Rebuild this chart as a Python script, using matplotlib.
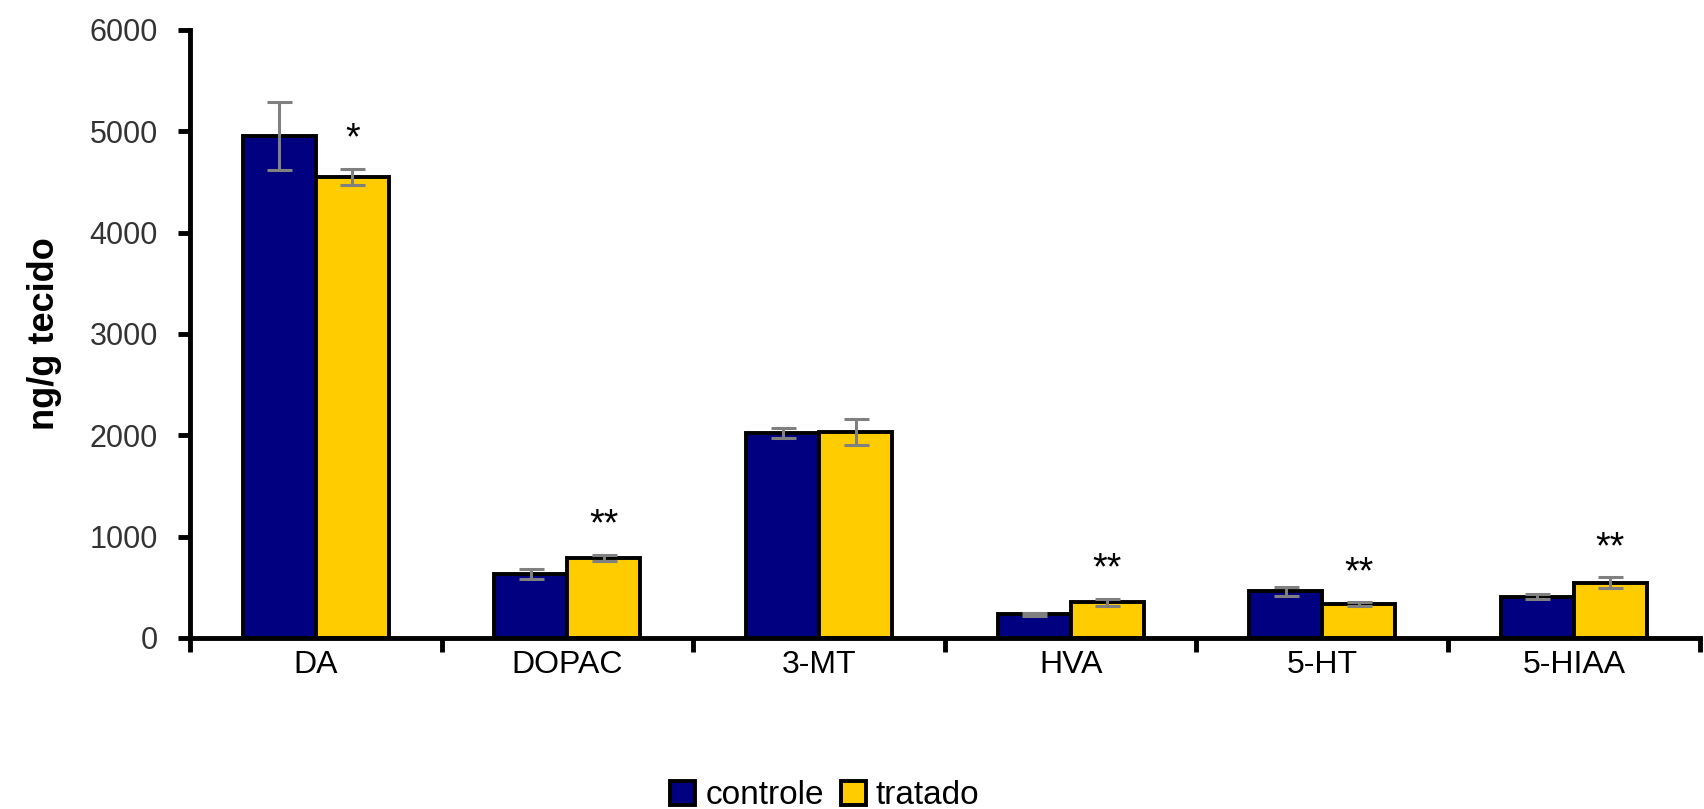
import matplotlib
matplotlib.use("Agg")
import matplotlib.pyplot as plt
import numpy as np

categories = ["DA", "DOPAC", "3-MT", "HVA", "5-HT", "5-HIAA"]
controle = [4950, 630, 2020, 236, 461, 408]
controle_err = [335, 50, 50, 15, 45, 25]
tratado = [4550, 790, 2030, 354, 333, 547]
tratado_err = [80, 30, 130, 35, 20, 50]
signif = ["*", "**", "", "**", "**", "**"]
yticks = [0, 1000, 2000, 3000, 4000, 5000, 6000]

plt.rcParams["font.family"] = ["Liberation Sans", "DejaVu Sans"]

fig = plt.figure(figsize=(17.04, 8.09), dpi=100)
ax = fig.add_axes([0.1115, 0.2114, 0.886, 0.7516])

x = np.arange(len(categories))
w = 0.29
err_kw = dict(ecolor="#808080", elinewidth=2.2, capsize=9, capthick=2.2)
ax.bar(x - w / 2, controle, w, yerr=controle_err, color="#000080",
       edgecolor="black", linewidth=2.8, label="controle", error_kw=err_kw)
ax.bar(x + w / 2, tratado, w, yerr=tratado_err, color="#FFCC00",
       edgecolor="black", linewidth=2.8, label="tratado", error_kw=err_kw)

# significance marks above the tratado bars
for i, s in enumerate(signif):
    if s:
        ax.text(x[i] + w / 2, tratado[i] + tratado_err[i] + 290, s,
                ha="center", va="center", fontsize=27, color="black")

ax.set_xlim(-0.5, len(categories) - 0.5)
ax.set_ylim(0, 6000)
ax.set_yticks(yticks)
ax.set_yticklabels([str(t) for t in yticks], fontsize=22, color="#333333")
ax.set_xticks(x)
ax.set_xticklabels(categories, fontsize=23)
ax.set_xticks(np.arange(len(categories) + 1) - 0.5, minor=True)
ax.tick_params(axis="x", which="major", length=0, pad=9)
ax.tick_params(axis="x", which="minor", length=10, width=3.5, direction="out")
ax.tick_params(axis="y", length=9, width=3.5, direction="out", pad=14)

for side in ["top", "right"]:
    ax.spines[side].set_visible(False)
for side in ["left", "bottom"]:
    ax.spines[side].set_linewidth(3.5)

ax.set_ylabel("ng/g tecido", fontsize=26, fontweight="bold", labelpad=20)

fig.legend(loc="lower center", bbox_to_anchor=(0.484, -0.04), ncol=2,
           frameon=False, fontsize=24, handlelength=0.75, handleheight=0.75,
           handletextpad=0.3, columnspacing=0.5)

fig.savefig("out.png", dpi=100)
